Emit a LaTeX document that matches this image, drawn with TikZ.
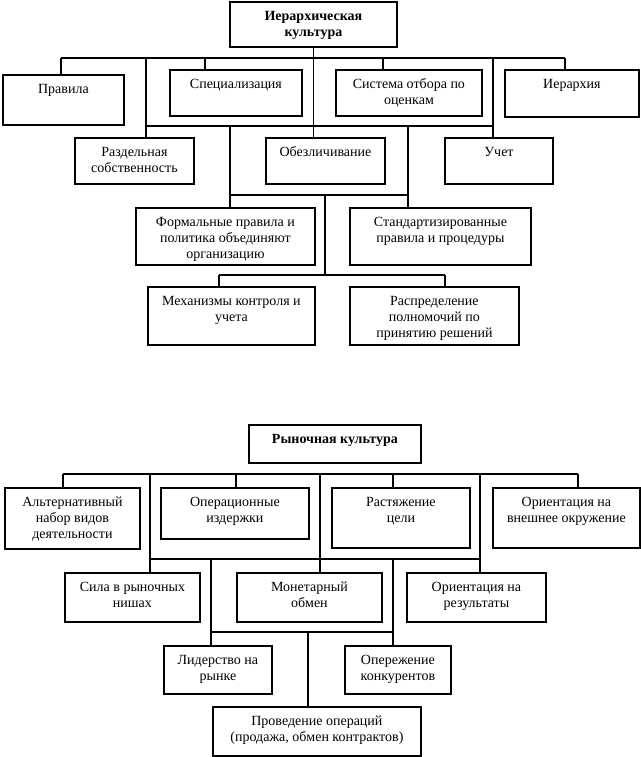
\documentclass[tikz,border=0pt]{standalone}
\usepackage{fontspec}
\setmainfont{Liberation Serif}
\newlength\tpad
\setlength\tpad{5.5pt}
\tikzset{
  bx/.style={draw, line width=1.4pt, inner sep=0pt, anchor=north west},
  ln/.style={line width=1.05pt},
}
\newcommand\bx[6]{%
  \node[bx] (#1) at (#2,#3) {\parbox[c][\dimexpr(#5pt-#3pt)*3/4\relax][t]{\dimexpr(#4pt-#2pt)*3/4\relax}{\centering\vspace*{\tpad}\strut #6\par}};}
\begin{document}
\begin{tikzpicture}[x=0.75pt, y=-0.75pt, font=\fontsize{10.5}{12}\selectfont]
\useasboundingbox (0,0) rectangle (640,757);
% ---------------- Hierarchical culture ----------------
\bx{hT}{229}{1}{396}{46}{\bfseries Иерархическая\\культура}
\bx{hR1}{2}{74}{123}{124}{Правила}
\bx{hR2}{169}{69}{301}{115}{Специализация}
\bx{hR3}{335}{69}{481}{115}{Система отбора по\\оценкам}
\bx{hR4}{504}{69}{638}{116}{Иерархия}
\bx{hS1}{74}{137}{193}{183}{Раздельная\\собственность}
\bx{hS2}{265}{137}{384}{183}{Обезличивание}
\bx{hS3}{444}{137}{552}{183}{Учет}
\bx{hF1}{135}{207}{314}{264}{Формальные правила и\\политика объединяют\\организацию}
\bx{hF2}{349}{207}{530}{264}{Стандартизированные\\правила и процедуры}
\bx{hM1}{147}{286}{314}{344}{Механизмы контроля и\\учета}
\bx{hM2}{349}{286}{518}{344}{Распределение\\полномочий по\\принятию решений}
% connectors
\coordinate (ha1) at (61,58);
\coordinate (ha2) at (146,58);
\coordinate (ha3) at (205,58);
\coordinate (ha4) at (383,58);
\coordinate (ha5) at (493,58);
\coordinate (ha6) at (565,58);
\draw[ln] (hT.south) -- (hT.south |- hS2.north);
\draw[ln] (ha1) -- (ha6);
\draw[ln] (ha1) -- (ha1 |- hR1.north);
\draw[ln] (ha3) -- (ha3 |- hR2.north);
\draw[ln] (ha4) -- (ha4 |- hR3.north);
\draw[ln] (ha6) -- (ha6 |- hR4.north);
\draw[ln] (ha2) -- (ha2 |- hS1.north);
\draw[ln] (ha5) -- (ha5 |- hS3.north);
\coordinate (hb1) at (146,126);
\coordinate (hb2) at (230,126);
\coordinate (hb3) at (408,126);
\coordinate (hb4) at (493,126);
\draw[ln] (hb1) -- (hb4);
\draw[ln] (hb2) -- (hb2 |- hF1.north);
\draw[ln] (hb3) -- (hb3 |- hF2.north);
\coordinate (hc1) at (230,195);
\coordinate (hc2) at (325,195);
\coordinate (hc3) at (408,195);
\draw[ln] (hc1) -- (hc3);
\coordinate (hd1) at (219,275);
\coordinate (hd2) at (325,275);
\coordinate (hd3) at (445,275);
\draw[ln] (hc2) -- (hd2);
\draw[ln] (hd1) -- (hd3);
\draw[ln] (hd1) -- (hd1 |- hM1.north);
\draw[ln] (hd3) -- (hd3 |- hM2.north);
% ---------------- Market culture ----------------
\bx{mT}{248}{424}{420}{462}{\bfseries\vspace*{2pt}Рыночная культура}
\bx{mR1}{4}{487}{139}{548}{Альтернативный\\набор видов\\деятельности}
\bx{mR2}{160}{487}{308}{538}{Операционные\\издержки}
\bx{mR3}{331}{487}{469}{547}{Растяжение\\цели}
\bx{mR4}{492}{487}{639}{547}{Ориентация на\\внешнее окружение}
\bx{mS1}{64}{572}{199}{621}{Сила в рыночных\\нишах}
\bx{mS2}{236}{572}{381}{621}{Монетарный\\обмен}
\bx{mS3}{406}{572}{545}{621}{Ориентация на\\результаты}
\bx{mL1}{163}{645}{271}{693}{Лидерство на\\рынке}
\bx{mL2}{344}{645}{450}{693}{Опережение\\конкурентов}
\bx{mP}{212}{706}{420}{755}{Проведение операций\\(продажа, обмен контрактов)}
% connectors
\coordinate (ma1) at (63,474);
\coordinate (ma2) at (150,474);
\coordinate (ma3) at (236,474);
\coordinate (ma4) at (320,474);
\coordinate (ma5) at (393,474);
\coordinate (ma6) at (480,474);
\coordinate (ma7) at (578,474);
\draw[ln] (ma1) -- (ma7);
\draw[ln] (ma1) -- (ma1 |- mR1.north);
\draw[ln] (ma3) -- (ma3 |- mR2.north);
\draw[ln] (ma5) -- (ma5 |- mR3.north);
\draw[ln] (ma7) -- (ma7 |- mR4.north);
\draw[ln] (ma2) -- (ma2 |- mS1.north);
\draw[ln] (ma4) -- (ma4 |- mS2.north);
\draw[ln] (ma6) -- (ma6 |- mS3.north);
\coordinate (mb1) at (150,559);
\coordinate (mb2) at (211,559);
\coordinate (mb3) at (393,559);
\coordinate (mb4) at (480,559);
\draw[ln] (mb1) -- (mb4);
\draw[ln] (mb2) -- (mb2 |- mL1.north);
\draw[ln] (mb3) -- (mb3 |- mL2.north);
\coordinate (mc1) at (211,632);
\coordinate (mc2) at (308,632);
\coordinate (mc3) at (393,632);
\draw[ln] (mc1) -- (mc3);
\draw[ln] (mc2) -- (mc2 |- mP.north);
\end{tikzpicture}
\end{document}
